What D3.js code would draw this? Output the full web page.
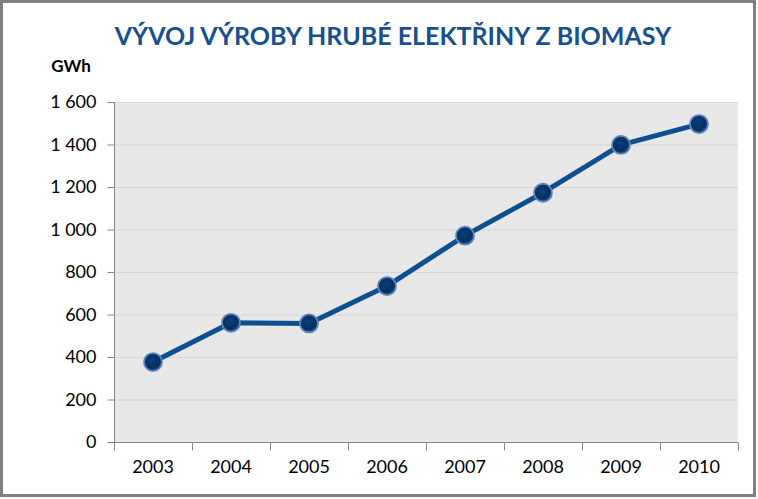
<!DOCTYPE html>
<html><head><meta charset="utf-8">
<script src="https://cdn.jsdelivr.net/npm/d3@7"></script>
<style>
body{margin:0;background:#fff;}
svg{display:block;}
</style></head>
<body>
<svg id="c" width="758" height="499"></svg>
<script>
const years = ["2003","2004","2005","2006","2007","2008","2009","2010"];
const values = [376, 561, 558, 734, 971, 1173, 1398, 1496];
const yTicks = [0,200,400,600,800,1000,1200,1400,1600];
const title = "VÝVOJ VÝROBY HRUBÉ ELEKTŘINY Z BIOMASY";
const unit = "GWh";

const svg = d3.select("#c");
const font = "Lato,'Open Sans',sans-serif";
const m = {l:114, r:738, t:102, b:442};

svg.append("rect").attr("x",1.5).attr("y",1.5).attr("width",753).attr("height",494)
  .attr("fill","#fff").attr("stroke","#808080").attr("stroke-width",3);

const x = d3.scaleBand().domain(years).range([m.l,m.r]);
const y = d3.scaleLinear().domain([0,1600]).range([m.b,m.t]);

svg.append("rect").attr("x",m.l).attr("y",m.t).attr("width",m.r-m.l).attr("height",m.b-m.t).attr("fill","#e8e8e8");

// gridlines
svg.append("g").selectAll("line").data(yTicks.slice(1)).join("line")
  .attr("x1",m.l).attr("x2",m.r).attr("y1",d=>y(d)+0.5).attr("y2",d=>y(d)+0.5)
  .attr("stroke","#d6d6d6").attr("stroke-width",1);

const fmt = d => d3.format(",")(d).replace(/,/g," ");

const ya = svg.append("g").attr("transform",`translate(${m.l+0.5},0)`)
  .call(d3.axisLeft(y).tickValues(yTicks).tickFormat(fmt).tickSize(7).tickPadding(11));
ya.attr("font-family",font);
ya.select(".domain").attr("stroke","#868686").attr("d",`M0,${m.t}V${m.b}`);
ya.selectAll(".tick line").attr("stroke","#868686");
ya.selectAll("text").attr("font-family",font).attr("font-size",18).attr("font-weight","normal").attr("fill","#000");

const xa = svg.append("g").attr("transform",`translate(0,${m.b+0.5})`)
  .call(d3.axisBottom(x).tickSize(0).tickPadding(18));
xa.attr("font-family",font);
xa.select(".domain").attr("stroke","#868686").attr("d",`M${m.l},0H${m.r}`);
xa.selectAll("text").attr("font-family",font).attr("font-size",18).attr("font-weight","normal").attr("fill","#000");
// boundary ticks
xa.append("g").selectAll("line").data(years.concat(["end"])).join("line")
  .attr("x1",(d,i)=>Math.round(m.l + i*x.step())+0.5).attr("x2",(d,i)=>Math.round(m.l + i*x.step())+0.5)
  .attr("y1",0).attr("y2",8).attr("stroke","#868686");

// title
svg.append("text").attr("x",393).attr("y",45).attr("text-anchor","middle")
  .attr("font-family",font).attr("font-weight","bold").attr("font-size",25)
  .attr("fill","#17508c").text(title);
svg.append("text").attr("x",71).attr("y",72).attr("text-anchor","middle")
  .attr("font-family",font).attr("font-weight","bold").attr("font-size",17)
  .attr("fill","#000").text(unit);

// line
const defs = svg.append("defs");
const g = defs.append("radialGradient").attr("id","mk").attr("cx","45%").attr("cy","40%").attr("r","60%");
g.append("stop").attr("offset","0%").attr("stop-color","#0b3f7c");
g.append("stop").attr("offset","70%").attr("stop-color","#082f61");
g.append("stop").attr("offset","100%").attr("stop-color","#1d4f8c");

const cx = d => x(d)+x.bandwidth()/2;
svg.append("path").datum(values)
  .attr("d", d3.line().x((d,i)=>cx(years[i])).y(d=>y(d)))
  .attr("fill","none").attr("stroke","#0f4f8f").attr("stroke-width",5).attr("stroke-linejoin","round");

svg.append("g").selectAll("circle").data(values).join("circle")
  .attr("cx",(d,i)=>cx(years[i])).attr("cy",d=>y(d)).attr("r",9)
  .attr("fill","url(#mk)").attr("stroke","#5b87bd").attr("stroke-width",1.8);
</script>
</body></html>
